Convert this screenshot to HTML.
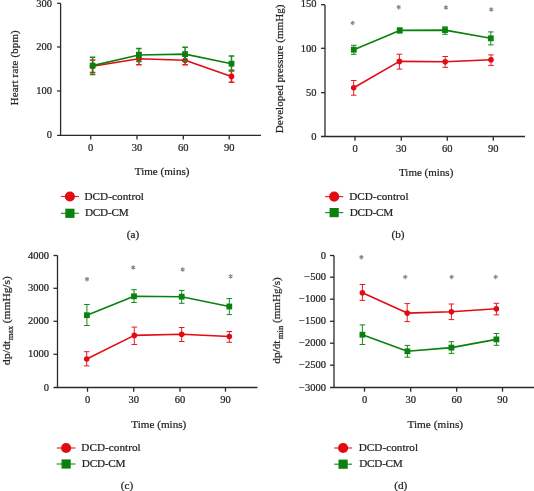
<!DOCTYPE html>
<html><head><meta charset="utf-8"><style>
html,body{margin:0;padding:0;background:#fff;}
body{width:534px;height:491px;overflow:hidden;}
svg{display:block;}
text{font-family:"Liberation Serif", serif;fill:#232323;stroke:#232323;stroke-width:0.22px;}
</style></head><body>
<div style="will-change:transform"><svg width="534" height="491" viewBox="0 0 534 491">
<rect width="534" height="491" fill="#fff"/>
<path d="M60.6 3.3V135.4" stroke="#2a2a2a" stroke-width="1.3" fill="none"/>
<path d="M57.1 135.4H261" stroke="#2a2a2a" stroke-width="1.3" fill="none"/>
<text x="52.0" y="138.4" font-size="10.5" text-anchor="end">0</text>
<path d="M57.1 91H60.6" stroke="#2a2a2a" stroke-width="1.3"/>
<text x="52.0" y="94.0" font-size="10.5" text-anchor="end">100</text>
<path d="M57.1 47H60.6" stroke="#2a2a2a" stroke-width="1.3"/>
<text x="52.0" y="50.0" font-size="10.5" text-anchor="end">200</text>
<path d="M57.1 3.3H60.6" stroke="#2a2a2a" stroke-width="1.3"/>
<text x="52.0" y="6.699999999999999" font-size="10.5" text-anchor="end">300</text>
<path d="M90.7 135.4V139.6" stroke="#2a2a2a" stroke-width="1.3"/>
<text x="90.7" y="150.6" font-size="10.5" text-anchor="middle">0</text>
<path d="M137 135.4V139.6" stroke="#2a2a2a" stroke-width="1.3"/>
<text x="137" y="150.6" font-size="10.5" text-anchor="middle">30</text>
<path d="M183.3 135.4V139.6" stroke="#2a2a2a" stroke-width="1.3"/>
<text x="183.3" y="150.6" font-size="10.5" text-anchor="middle">60</text>
<path d="M229.2 135.4V139.6" stroke="#2a2a2a" stroke-width="1.3"/>
<text x="229.2" y="150.6" font-size="10.5" text-anchor="middle">90</text>
<text x="162.15" y="175.4" font-size="11" text-anchor="middle" textLength="54.7" lengthAdjust="spacingAndGlyphs">Time (mins)</text>
<g transform="translate(18.2,67.8) rotate(-90)">
<text x="0" y="0" font-size="10.8" text-anchor="middle" textLength="75.0" lengthAdjust="spacing">Heart rate (bpm)</text>
</g>
<path d="M92.6 66.2L138.9 58.7L185.1 60.3L231.5 76.4" stroke="#e20b14" stroke-width="1.6" fill="none" stroke-linejoin="round"/>
<path d="M92.6 65.6L138.9 55L185.1 54.1L231.5 63.7" stroke="#0a800e" stroke-width="1.6" fill="none" stroke-linejoin="round"/>
<path d="M92.6 59.9V72.5M89.8 59.9H95.39999999999999M89.8 72.5H95.39999999999999" stroke="#e51a22" stroke-width="1.5" fill="none"/>
<path d="M138.9 52.6V64.8M136.1 52.6H141.70000000000002M136.1 64.8H141.70000000000002" stroke="#e51a22" stroke-width="1.5" fill="none"/>
<path d="M185.1 55.8V64.8M182.29999999999998 55.8H187.9M182.29999999999998 64.8H187.9" stroke="#e51a22" stroke-width="1.5" fill="none"/>
<path d="M231.5 70.2V82.3M228.7 70.2H234.3M228.7 82.3H234.3" stroke="#e51a22" stroke-width="1.5" fill="none"/>
<circle cx="92.6" cy="66.2" r="2.8" fill="#e20b14"/>
<circle cx="138.9" cy="58.7" r="2.8" fill="#e20b14"/>
<circle cx="185.1" cy="60.3" r="2.8" fill="#e20b14"/>
<circle cx="231.5" cy="76.4" r="2.8" fill="#e20b14"/>
<path d="M92.6 57.3V74.5M89.8 57.3H95.39999999999999M89.8 74.5H95.39999999999999" stroke="#168a1a" stroke-width="1.5" fill="none"/>
<path d="M138.9 48.5V61.5M136.1 48.5H141.70000000000002M136.1 61.5H141.70000000000002" stroke="#168a1a" stroke-width="1.5" fill="none"/>
<path d="M185.1 47.3V61.3M182.29999999999998 47.3H187.9M182.29999999999998 61.3H187.9" stroke="#168a1a" stroke-width="1.5" fill="none"/>
<path d="M231.5 56.1V70.9M228.7 56.1H234.3M228.7 70.9H234.3" stroke="#168a1a" stroke-width="1.5" fill="none"/>
<rect x="89.69999999999999" y="62.699999999999996" width="5.8" height="5.8" fill="#0a800e"/>
<rect x="136.0" y="52.1" width="5.8" height="5.8" fill="#0a800e"/>
<rect x="182.2" y="51.2" width="5.8" height="5.8" fill="#0a800e"/>
<rect x="228.6" y="60.800000000000004" width="5.8" height="5.8" fill="#0a800e"/>
<path d="M60.9 196.5H78.9" stroke="#e51a22" stroke-width="1.1"/>
<circle cx="69.9" cy="196.5" r="5.1" fill="#e20b14"/>
<path d="M60.9 213.3H78.9" stroke="#168a1a" stroke-width="1.1"/>
<rect x="65.30000000000001" y="208.70000000000002" width="9.2" height="9.2" fill="#0a800e"/>
<text x="84.5" y="199.7" font-size="11.2" text-anchor="start" textLength="59.4" lengthAdjust="spacing">DCD-control</text>
<text x="85.0" y="216.3" font-size="11.2" text-anchor="start" textLength="43.6" lengthAdjust="spacing">DCD-CM</text>
<text x="132.95" y="237.9" font-size="11.2" text-anchor="middle">(a)</text>
<path d="M325.0 5V136.5" stroke="#2a2a2a" stroke-width="1.3" fill="none"/>
<path d="M321.0 136.5H525" stroke="#2a2a2a" stroke-width="1.3" fill="none"/>
<text x="316.5" y="139.8" font-size="10.5" text-anchor="end">0</text>
<path d="M321.0 92.7H325.0" stroke="#2a2a2a" stroke-width="1.3"/>
<text x="316.5" y="96.0" font-size="10.5" text-anchor="end">50</text>
<path d="M321.0 48.3H325.0" stroke="#2a2a2a" stroke-width="1.3"/>
<text x="316.5" y="51.599999999999994" font-size="10.5" text-anchor="end">100</text>
<path d="M321.0 4.7H325.0" stroke="#2a2a2a" stroke-width="1.3"/>
<text x="316.5" y="7.4" font-size="10.5" text-anchor="end">150</text>
<path d="M355 136.5V140.7" stroke="#2a2a2a" stroke-width="1.3"/>
<text x="355" y="151.7" font-size="10.5" text-anchor="middle">0</text>
<path d="M401.3 136.5V140.7" stroke="#2a2a2a" stroke-width="1.3"/>
<text x="401.3" y="151.7" font-size="10.5" text-anchor="middle">30</text>
<path d="M447.3 136.5V140.7" stroke="#2a2a2a" stroke-width="1.3"/>
<text x="447.3" y="151.7" font-size="10.5" text-anchor="middle">60</text>
<path d="M493.3 136.5V140.7" stroke="#2a2a2a" stroke-width="1.3"/>
<text x="493.3" y="151.7" font-size="10.5" text-anchor="middle">90</text>
<text x="426.15" y="176.3" font-size="11" text-anchor="middle" textLength="54.3" lengthAdjust="spacingAndGlyphs">Time (mins)</text>
<g transform="translate(283.2,68.95) rotate(-90)">
<text x="0" y="0" font-size="10.8" text-anchor="middle" textLength="128.70000000000002" lengthAdjust="spacingAndGlyphs">Developed pressure (mmHg)</text>
</g>
<path d="M352.70 20.80L352.70 25.20M354.61 21.90L350.79 24.10M354.61 24.10L350.79 21.90" stroke="#8a8a8a" stroke-width="1.2" fill="none"/>
<path d="M398.70 5.00L398.70 9.40M400.61 6.10L396.79 8.30M400.61 8.30L396.79 6.10" stroke="#8a8a8a" stroke-width="1.2" fill="none"/>
<path d="M446.00 5.30L446.00 9.70M447.91 6.40L444.09 8.60M447.91 8.60L444.09 6.40" stroke="#8a8a8a" stroke-width="1.2" fill="none"/>
<path d="M491.30 7.30L491.30 11.70M493.21 8.40L489.39 10.60M493.21 10.60L489.39 8.40" stroke="#8a8a8a" stroke-width="1.2" fill="none"/>
<path d="M353.7 87.7L399.4 61.4L445.2 61.8L491 59.8" stroke="#e20b14" stroke-width="1.6" fill="none" stroke-linejoin="round"/>
<path d="M353.8 49.7L399.7 30.4L445 30.1L490.8 38.3" stroke="#0a800e" stroke-width="1.6" fill="none" stroke-linejoin="round"/>
<path d="M353.7 80.5V95.2M350.9 80.5H356.5M350.9 95.2H356.5" stroke="#e51a22" stroke-width="1.0" fill="none"/>
<path d="M399.4 54.2V69.1M396.59999999999997 54.2H402.2M396.59999999999997 69.1H402.2" stroke="#e51a22" stroke-width="1.0" fill="none"/>
<path d="M445.2 56.5V67.3M442.4 56.5H448.0M442.4 67.3H448.0" stroke="#e51a22" stroke-width="1.0" fill="none"/>
<path d="M491 54.9V65.4M488.2 54.9H493.8M488.2 65.4H493.8" stroke="#e51a22" stroke-width="1.0" fill="none"/>
<circle cx="353.7" cy="87.7" r="2.8" fill="#e20b14"/>
<circle cx="399.4" cy="61.4" r="2.8" fill="#e20b14"/>
<circle cx="445.2" cy="61.8" r="2.8" fill="#e20b14"/>
<circle cx="491" cy="59.8" r="2.8" fill="#e20b14"/>
<path d="M353.8 45.3V54.3M351.0 45.3H356.6M351.0 54.3H356.6" stroke="#168a1a" stroke-width="1.0" fill="none"/>
<path d="M399.7 28V33M396.9 28H402.5M396.9 33H402.5" stroke="#168a1a" stroke-width="1.0" fill="none"/>
<path d="M445 26.8V34.3M442.2 26.8H447.8M442.2 34.3H447.8" stroke="#168a1a" stroke-width="1.0" fill="none"/>
<path d="M490.8 31.9V44.9M488.0 31.9H493.6M488.0 44.9H493.6" stroke="#168a1a" stroke-width="1.0" fill="none"/>
<rect x="350.90000000000003" y="46.800000000000004" width="5.8" height="5.8" fill="#0a800e"/>
<rect x="396.8" y="27.5" width="5.8" height="5.8" fill="#0a800e"/>
<rect x="442.1" y="27.200000000000003" width="5.8" height="5.8" fill="#0a800e"/>
<rect x="487.90000000000003" y="35.4" width="5.8" height="5.8" fill="#0a800e"/>
<path d="M325 196.6H343.3" stroke="#e51a22" stroke-width="1.1"/>
<circle cx="334.15" cy="196.6" r="5.1" fill="#e20b14"/>
<path d="M325 212.6H343.3" stroke="#168a1a" stroke-width="1.1"/>
<rect x="329.54999999999995" y="208.0" width="9.2" height="9.2" fill="#0a800e"/>
<text x="349.2" y="199.79999999999998" font-size="11.2" text-anchor="start" textLength="59.4" lengthAdjust="spacing">DCD-control</text>
<text x="349.7" y="215.6" font-size="11.2" text-anchor="start" textLength="43.6" lengthAdjust="spacing">DCD-CM</text>
<text x="397.95" y="238.1" font-size="11.2" text-anchor="middle">(b)</text>
<path d="M57.5 255.5V387.5" stroke="#2a2a2a" stroke-width="1.3" fill="none"/>
<path d="M53.5 387.5H257.5" stroke="#2a2a2a" stroke-width="1.3" fill="none"/>
<text x="49.1" y="390.5" font-size="10.5" text-anchor="end">0</text>
<path d="M53.5 354.3H57.5" stroke="#2a2a2a" stroke-width="1.3"/>
<text x="49.1" y="357.3" font-size="10.5" text-anchor="end">1000</text>
<path d="M53.5 321.3H57.5" stroke="#2a2a2a" stroke-width="1.3"/>
<text x="49.1" y="324.3" font-size="10.5" text-anchor="end">2000</text>
<path d="M53.5 288.3H57.5" stroke="#2a2a2a" stroke-width="1.3"/>
<text x="49.1" y="291.3" font-size="10.5" text-anchor="end">3000</text>
<path d="M53.5 255.5H57.5" stroke="#2a2a2a" stroke-width="1.3"/>
<text x="49.1" y="258.5" font-size="10.5" text-anchor="end">4000</text>
<path d="M87.5 387.5V391.7" stroke="#2a2a2a" stroke-width="1.3"/>
<text x="87.5" y="402.7" font-size="10.5" text-anchor="middle">0</text>
<path d="M133.7 387.5V391.7" stroke="#2a2a2a" stroke-width="1.3"/>
<text x="133.7" y="402.7" font-size="10.5" text-anchor="middle">30</text>
<path d="M180 387.5V391.7" stroke="#2a2a2a" stroke-width="1.3"/>
<text x="180" y="402.7" font-size="10.5" text-anchor="middle">60</text>
<path d="M225.5 387.5V391.7" stroke="#2a2a2a" stroke-width="1.3"/>
<text x="225.5" y="402.7" font-size="10.5" text-anchor="middle">90</text>
<text x="158.8" y="427.7" font-size="11" text-anchor="middle" textLength="55.0" lengthAdjust="spacingAndGlyphs">Time (mins)</text>
<text transform="translate(10.0,365.2) rotate(-90)" x="0" y="0" font-size="11.1" textLength="24.6" lengthAdjust="spacingAndGlyphs">dp/dt</text>
<text transform="translate(12.9,340.2) rotate(-90)" x="0" y="0" font-size="8.0" textLength="14.4" lengthAdjust="spacingAndGlyphs">max</text>
<text transform="translate(10.0,323.2) rotate(-90)" x="0" y="0" font-size="11.1" textLength="47.0" lengthAdjust="spacingAndGlyphs">(mmHg/s)</text>
<path d="M87.00 277.00L87.00 281.40M88.91 278.10L85.09 280.30M88.91 280.30L85.09 278.10" stroke="#8a8a8a" stroke-width="1.2" fill="none"/>
<path d="M133.30 265.30L133.30 269.70M135.21 266.40L131.39 268.60M135.21 268.60L131.39 266.40" stroke="#8a8a8a" stroke-width="1.2" fill="none"/>
<path d="M182.70 267.30L182.70 271.70M184.61 268.40L180.79 270.60M184.61 270.60L180.79 268.40" stroke="#8a8a8a" stroke-width="1.2" fill="none"/>
<path d="M230.60 274.20L230.60 278.60M232.51 275.30L228.69 277.50M232.51 277.50L228.69 275.30" stroke="#8a8a8a" stroke-width="1.2" fill="none"/>
<path d="M86.7 359L134.3 335.4L181.7 334.3L229.3 336.5" stroke="#e20b14" stroke-width="1.6" fill="none" stroke-linejoin="round"/>
<path d="M86.9 315.2L134 296.3L181.7 296.7L229.3 306.5" stroke="#0a800e" stroke-width="1.6" fill="none" stroke-linejoin="round"/>
<path d="M86.7 351.7V365.9M83.9 351.7H89.5M83.9 365.9H89.5" stroke="#e51a22" stroke-width="1.0" fill="none"/>
<path d="M134.3 327.1V344.5M131.5 327.1H137.10000000000002M131.5 344.5H137.10000000000002" stroke="#e51a22" stroke-width="1.0" fill="none"/>
<path d="M181.7 327.5V341.5M178.89999999999998 327.5H184.5M178.89999999999998 341.5H184.5" stroke="#e51a22" stroke-width="1.0" fill="none"/>
<path d="M229.3 331.5V342.3M226.5 331.5H232.10000000000002M226.5 342.3H232.10000000000002" stroke="#e51a22" stroke-width="1.0" fill="none"/>
<circle cx="86.7" cy="359" r="2.8" fill="#e20b14"/>
<circle cx="134.3" cy="335.4" r="2.8" fill="#e20b14"/>
<circle cx="181.7" cy="334.3" r="2.8" fill="#e20b14"/>
<circle cx="229.3" cy="336.5" r="2.8" fill="#e20b14"/>
<path d="M86.9 304.5V325.5M84.10000000000001 304.5H89.7M84.10000000000001 325.5H89.7" stroke="#168a1a" stroke-width="1.0" fill="none"/>
<path d="M134 289.7V302.5M131.2 289.7H136.8M131.2 302.5H136.8" stroke="#168a1a" stroke-width="1.0" fill="none"/>
<path d="M181.7 290.4V303.3M178.89999999999998 290.4H184.5M178.89999999999998 303.3H184.5" stroke="#168a1a" stroke-width="1.0" fill="none"/>
<path d="M229.3 298.6V314.6M226.5 298.6H232.10000000000002M226.5 314.6H232.10000000000002" stroke="#168a1a" stroke-width="1.0" fill="none"/>
<rect x="84.0" y="312.3" width="5.8" height="5.8" fill="#0a800e"/>
<rect x="131.1" y="293.40000000000003" width="5.8" height="5.8" fill="#0a800e"/>
<rect x="178.79999999999998" y="293.8" width="5.8" height="5.8" fill="#0a800e"/>
<rect x="226.4" y="303.6" width="5.8" height="5.8" fill="#0a800e"/>
<path d="M56.7 448H75.5" stroke="#e51a22" stroke-width="1.1"/>
<circle cx="66.1" cy="448" r="5.1" fill="#e20b14"/>
<path d="M56.7 464H75.5" stroke="#168a1a" stroke-width="1.1"/>
<rect x="61.49999999999999" y="459.4" width="9.2" height="9.2" fill="#0a800e"/>
<text x="81.3" y="451.2" font-size="11.2" text-anchor="start" textLength="59.4" lengthAdjust="spacing">DCD-control</text>
<text x="81.8" y="467.0" font-size="11.2" text-anchor="start" textLength="43.6" lengthAdjust="spacing">DCD-CM</text>
<text x="127.0" y="488.6" font-size="11.2" text-anchor="middle">(c)</text>
<path d="M334.0 255.5V387.5" stroke="#2a2a2a" stroke-width="1.3" fill="none"/>
<path d="M330.0 387.5H534" stroke="#2a2a2a" stroke-width="1.3" fill="none"/>
<text x="326" y="390.5" font-size="10.5" text-anchor="end">−3000</text>
<path d="M330.0 365.2H334.0" stroke="#2a2a2a" stroke-width="1.3"/>
<text x="326" y="368.2" font-size="10.5" text-anchor="end">−2500</text>
<path d="M330.0 343.2H334.0" stroke="#2a2a2a" stroke-width="1.3"/>
<text x="326" y="346.2" font-size="10.5" text-anchor="end">−2000</text>
<path d="M330.0 321.3H334.0" stroke="#2a2a2a" stroke-width="1.3"/>
<text x="326" y="324.3" font-size="10.5" text-anchor="end">−1500</text>
<path d="M330.0 299.2H334.0" stroke="#2a2a2a" stroke-width="1.3"/>
<text x="326" y="302.2" font-size="10.5" text-anchor="end">−1000</text>
<path d="M330.0 277.2H334.0" stroke="#2a2a2a" stroke-width="1.3"/>
<text x="326" y="280.2" font-size="10.5" text-anchor="end">−500</text>
<path d="M330.0 255.5H334.0" stroke="#2a2a2a" stroke-width="1.3"/>
<text x="326" y="258.5" font-size="10.5" text-anchor="end">0</text>
<path d="M364.5 387.5V391.7" stroke="#2a2a2a" stroke-width="1.3"/>
<text x="364.5" y="402.7" font-size="10.5" text-anchor="middle">0</text>
<path d="M410.7 387.5V391.7" stroke="#2a2a2a" stroke-width="1.3"/>
<text x="410.7" y="402.7" font-size="10.5" text-anchor="middle">30</text>
<path d="M456.7 387.5V391.7" stroke="#2a2a2a" stroke-width="1.3"/>
<text x="456.7" y="402.7" font-size="10.5" text-anchor="middle">60</text>
<path d="M502.5 387.5V391.7" stroke="#2a2a2a" stroke-width="1.3"/>
<text x="502.5" y="402.7" font-size="10.5" text-anchor="middle">90</text>
<text x="435.25" y="427.6" font-size="11" text-anchor="middle" textLength="55.5" lengthAdjust="spacingAndGlyphs">Time (mins)</text>
<text transform="translate(280.2,363.7) rotate(-90)" x="0" y="0" font-size="11.1" textLength="23.2" lengthAdjust="spacingAndGlyphs">dp/dt</text>
<text transform="translate(283.1,339.2) rotate(-90)" x="0" y="0" font-size="8.0" textLength="13.4" lengthAdjust="spacingAndGlyphs">min</text>
<text transform="translate(280.2,323.0) rotate(-90)" x="0" y="0" font-size="11.1" textLength="45.8" lengthAdjust="spacingAndGlyphs">(mmHg/s)</text>
<path d="M361.40 255.00L361.40 259.40M363.31 256.10L359.49 258.30M363.31 258.30L359.49 256.10" stroke="#8a8a8a" stroke-width="1.2" fill="none"/>
<path d="M405.30 274.80L405.30 279.20M407.21 275.90L403.39 278.10M407.21 278.10L403.39 275.90" stroke="#8a8a8a" stroke-width="1.2" fill="none"/>
<path d="M451.70 274.80L451.70 279.20M453.61 275.90L449.79 278.10M453.61 278.10L449.79 275.90" stroke="#8a8a8a" stroke-width="1.2" fill="none"/>
<path d="M495.70 274.80L495.70 279.20M497.61 275.90L493.79 278.10M497.61 278.10L493.79 275.90" stroke="#8a8a8a" stroke-width="1.2" fill="none"/>
<path d="M362.4 292.7L407.2 313.1L451.4 311.7L496.4 308.7" stroke="#e20b14" stroke-width="1.6" fill="none" stroke-linejoin="round"/>
<path d="M362.4 334.7L407.4 351.3L451.4 347.6L496.4 339.4" stroke="#0a800e" stroke-width="1.6" fill="none" stroke-linejoin="round"/>
<path d="M362.4 284.5V300.4M359.59999999999997 284.5H365.2M359.59999999999997 300.4H365.2" stroke="#e51a22" stroke-width="1.0" fill="none"/>
<path d="M407.2 303.6V321.6M404.4 303.6H410.0M404.4 321.6H410.0" stroke="#e51a22" stroke-width="1.0" fill="none"/>
<path d="M451.4 304V319.6M448.59999999999997 304H454.2M448.59999999999997 319.6H454.2" stroke="#e51a22" stroke-width="1.0" fill="none"/>
<path d="M496.4 303.3V314.9M493.59999999999997 303.3H499.2M493.59999999999997 314.9H499.2" stroke="#e51a22" stroke-width="1.0" fill="none"/>
<circle cx="362.4" cy="292.7" r="2.8" fill="#e20b14"/>
<circle cx="407.2" cy="313.1" r="2.8" fill="#e20b14"/>
<circle cx="451.4" cy="311.7" r="2.8" fill="#e20b14"/>
<circle cx="496.4" cy="308.7" r="2.8" fill="#e20b14"/>
<path d="M362.4 324.9V344.5M359.59999999999997 324.9H365.2M359.59999999999997 344.5H365.2" stroke="#168a1a" stroke-width="1.0" fill="none"/>
<path d="M407.4 345.4V357.2M404.59999999999997 345.4H410.2M404.59999999999997 357.2H410.2" stroke="#168a1a" stroke-width="1.0" fill="none"/>
<path d="M451.4 341.7V353.4M448.59999999999997 341.7H454.2M448.59999999999997 353.4H454.2" stroke="#168a1a" stroke-width="1.0" fill="none"/>
<path d="M496.4 333.5V345.3M493.59999999999997 333.5H499.2M493.59999999999997 345.3H499.2" stroke="#168a1a" stroke-width="1.0" fill="none"/>
<rect x="359.5" y="331.8" width="5.8" height="5.8" fill="#0a800e"/>
<rect x="404.5" y="348.40000000000003" width="5.8" height="5.8" fill="#0a800e"/>
<rect x="448.5" y="344.70000000000005" width="5.8" height="5.8" fill="#0a800e"/>
<rect x="493.5" y="336.5" width="5.8" height="5.8" fill="#0a800e"/>
<path d="M334.2 448H352" stroke="#e51a22" stroke-width="1.1"/>
<circle cx="343.1" cy="448" r="5.1" fill="#e20b14"/>
<path d="M334.2 464.2H352" stroke="#168a1a" stroke-width="1.1"/>
<rect x="338.5" y="459.59999999999997" width="9.2" height="9.2" fill="#0a800e"/>
<text x="358.7" y="451.2" font-size="11.2" text-anchor="start" textLength="59.4" lengthAdjust="spacing">DCD-control</text>
<text x="359.2" y="467.2" font-size="11.2" text-anchor="start" textLength="43.6" lengthAdjust="spacing">DCD-CM</text>
<text x="400.7" y="488.6" font-size="11.2" text-anchor="middle">(d)</text>
</svg></div>
</body></html>
